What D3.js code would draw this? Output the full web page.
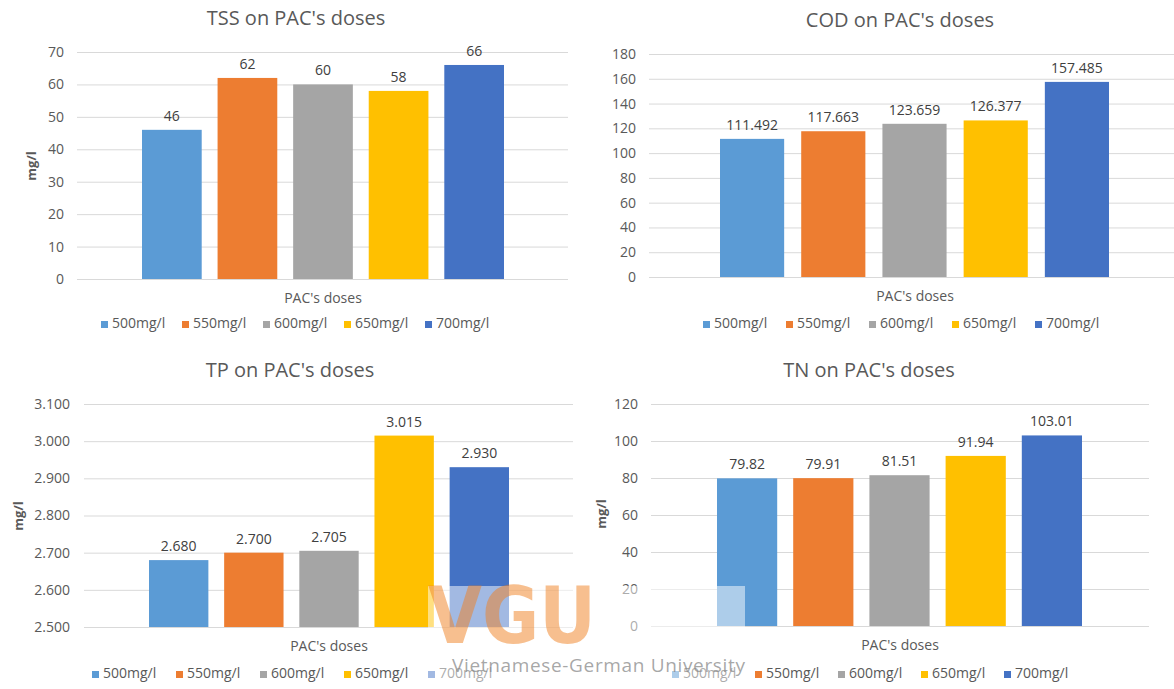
<!DOCTYPE html>
<html>
<head>
<meta charset="utf-8">
<script src="https://cdn.jsdelivr.net/npm/d3@7"></script>
<style>
  html, body { margin: 0; padding: 0; background: #fff; }
  svg { display: block; font-family: "Open Sans", "Liberation Sans", sans-serif; }
</style>
</head>
<body>
<svg id="chart" width="1174" height="689"></svg>
<script>
// ---------- data ----------
const doses = ["500mg/l", "550mg/l", "600mg/l", "650mg/l", "700mg/l"];
const colors = ["#5B9BD5", "#ED7D31", "#A5A5A5", "#FFC000", "#4472C4"];

const tssValues = [46, 62, 60, 58, 66];
const codValues = [111.492, 117.663, 123.659, 126.377, 157.485];
const tpValues  = [2.680, 2.700, 2.705, 3.015, 2.930];
const tnValues  = [79.82, 79.91, 81.51, 91.94, 103.01];

const tssTicks = [0, 10, 20, 30, 40, 50, 60, 70];
const codTicks = [0, 20, 40, 60, 80, 100, 120, 140, 160, 180];
const tpTicks  = [2.5, 2.6, 2.7, 2.8, 2.9, 3.0, 3.1];
const tnTicks  = [0, 20, 40, 60, 80, 100, 120];

const titles = ["TSS on PAC's doses", "COD on PAC's doses", "TP on PAC's doses", "TN on PAC's doses"];
const xTitle = "PAC's doses";
const yTitle = "mg/l";

// ---------- layout ----------
const panels = [
  { title: titles[0], values: tssValues, ticks: tssTicks, tickFmt: d3.format("d"), labelFmt: v => String(v),
    gridL: 77, gridR: 568, y0: 279, y1: 52, barL: 142, barR: 504, tickRight: 64,
    yTitleX: 36, yTitleY: 166, titleX: 296, titleY: 25, xTitleX: 323, xTitleY: 303,
    legendX: 101, legendStep: 81, legendY: 328 },
  { title: titles[1], values: codValues, ticks: codTicks, tickFmt: d3.format("d"), labelFmt: v => v.toFixed(3),
    gridL: 649, gridR: 1174, y0: 277, y1: 54, barL: 720, barR: 1109, tickRight: 636,
    yTitleX: null, yTitleY: null, titleX: 900, titleY: 27, xTitleX: 915, xTitleY: 301,
    legendX: 703, legendStep: 83, legendY: 328 },
  { title: titles[2], values: tpValues, ticks: tpTicks, tickFmt: d3.format(".3f"), labelFmt: v => v.toFixed(3),
    gridL: 84, gridR: 573, y0: 627, y1: 404, barL: 149, barR: 509, tickRight: 70,
    yTitleX: 23, yTitleY: 516, titleX: 290, titleY: 377, xTitleX: 329, xTitleY: 651,
    legendX: 92, legendStep: 84, legendY: 678 },
  { title: titles[3], values: tnValues, ticks: tnTicks, tickFmt: d3.format("d"), labelFmt: v => String(v),
    gridL: 651, gridR: 1149, y0: 626, y1: 404, barL: 717, barR: 1082, tickRight: 638,
    yTitleX: 606, yTitleY: 514, titleX: 869, titleY: 377, xTitleX: 900, xTitleY: 650,
    legendX: 672, legendStep: 83, legendY: 678 }
];

const svg = d3.select("#chart");
const textColor = "#595959";

function drawPanel(p) {
  const g = svg.append("g");
  const y = d3.scaleLinear()
    .domain([p.ticks[0], p.ticks[p.ticks.length - 1]])
    .range([p.y0, p.y1]);
  const x = d3.scaleBand().domain(doses).range([p.barL, p.barR]).paddingInner(0.21).paddingOuter(0);

  // gridlines + tick labels
  g.append("g")
    .attr("transform", `translate(${p.gridL},0)`)
    .call(d3.axisLeft(y).tickValues(p.ticks).tickFormat(p.tickFmt)
      .tickSize(-(p.gridR - p.gridL)).tickPadding(p.gridL - p.tickRight))
    .call(a => a.select(".domain").remove())
    .call(a => a.selectAll("line").attr("stroke", "#D9D9D9").attr("stroke-width", 1))
    .call(a => a.selectAll("text").attr("fill", textColor)
      .style("font-size", "14px").style("font-family", "'Open Sans', sans-serif"));

  // bars
  const base = p.ticks[0];
  g.selectAll("rect.bar").data(p.values).join("rect")
    .attr("class", "bar")
    .attr("x", (d, i) => x(doses[i]))
    .attr("width", x.bandwidth())
    .attr("y", d => y(d))
    .attr("height", d => y(base) - y(d))
    .attr("fill", (d, i) => colors[i]);

  // data labels
  g.selectAll("text.lbl").data(p.values).join("text")
    .attr("class", "lbl")
    .attr("x", (d, i) => x(doses[i]) + x.bandwidth() / 2)
    .attr("y", d => y(d) - 9)
    .attr("text-anchor", "middle")
    .attr("fill", "#404040")
    .style("font-size", "14px")
    .text(d => p.labelFmt(d));

  // title
  g.append("text")
    .attr("x", p.titleX).attr("y", p.titleY)
    .attr("text-anchor", "middle")
    .attr("fill", textColor)
    .style("font-size", "20px")
    .text(p.title);

  // y-axis title
  if (p.yTitleX !== null) {
    g.append("text")
      .attr("transform", `translate(${p.yTitleX},${p.yTitleY}) rotate(-90)`)
      .attr("text-anchor", "middle")
      .attr("fill", textColor)
      .style("font-size", "13px")
      .style("font-weight", "bold")
      .text(yTitle);
  }

  // x-axis title
  g.append("text")
    .attr("x", p.xTitleX).attr("y", p.xTitleY)
    .attr("text-anchor", "middle")
    .attr("fill", textColor)
    .style("font-size", "14px")
    .text(xTitle);

  // legend
  const lg = g.append("g");
  doses.forEach((dname, i) => {
    const lx = p.legendX + i * p.legendStep;
    lg.append("rect")
      .attr("x", lx).attr("y", p.legendY - 7)
      .attr("width", 7).attr("height", 7)
      .attr("fill", colors[i]);
    lg.append("text")
      .attr("x", lx + 11).attr("y", p.legendY)
      .attr("fill", textColor)
      .style("font-size", "14px")
      .text(dname);
  });
}

panels.forEach(drawPanel);

// ---------- watermark ----------
const wm = svg.append("g").attr("pointer-events", "none");
wm.append("rect")
  .attr("x", 428).attr("y", 586).attr("width", 317).attr("height", 103)
  .attr("fill", "#ffffff").attr("fill-opacity", 0.5);
wm.append("text")
  .attr("x", 428).attr("y", 643)
  .attr("textLength", 168).attr("lengthAdjust", "spacingAndGlyphs")
  .attr("fill", "#F07F1F").attr("fill-opacity", 0.5)
  .style("font-size", "78px").style("font-weight", "bold")
  .style("font-family", "'DejaVu Sans', sans-serif")
  .text("VGU");
wm.append("text")
  .attr("x", 452).attr("y", 672)
  .attr("textLength", 293).attr("lengthAdjust", "spacing")
  .attr("fill", "#8a8a8a").attr("fill-opacity", 0.75)
  .style("font-size", "19px")
  .text("Vietnamese-German University");
</script>
</body>
</html>
